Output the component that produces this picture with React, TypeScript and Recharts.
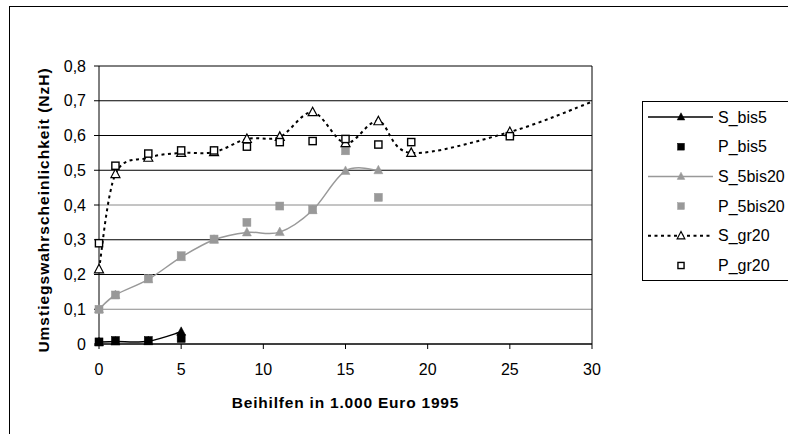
import React from 'react';
import { ComposedChart, Line, XAxis, YAxis, CartesianGrid, ReferenceLine, Legend, Label } from 'recharts';

// ---- data ----
const X_BIS5 = [0, 1, 3, 5];
const S_BIS5 = [0.005, 0.007, 0.008, 0.035];
const P_BIS5 = [0.006, 0.01, 0.01, 0.016];

const X_5BIS20 = [0, 1, 3, 5, 7, 9, 11, 13, 15, 17];
const S_5BIS20 = [0.1, 0.141, 0.186, 0.25, 0.3, 0.321, 0.322, 0.385, 0.498, 0.5];
const P_5BIS20 = [0.1, 0.141, 0.188, 0.254, 0.302, 0.35, 0.397, 0.388, 0.556, 0.422];

const X_GR20_S = [0, 1, 3, 5, 7, 9, 11, 13, 15, 17, 19, 25, 30];
const S_GR20 = [0.215, 0.489, 0.536, 0.55, 0.552, 0.59, 0.596, 0.667, 0.578, 0.641, 0.55, 0.61, 0.697];
const X_GR20_P = [0, 1, 3, 5, 7, 9, 11, 13, 15, 17, 19, 25];
const P_GR20 = [0.29, 0.513, 0.548, 0.557, 0.557, 0.568, 0.581, 0.584, 0.59, 0.574, 0.581, 0.598];

const X_TICKS = [0, 5, 10, 15, 20, 25, 30];
const Y_TICKS = [0, 0.1, 0.2, 0.3, 0.4, 0.5, 0.6, 0.7, 0.8];
const SERIES_NAMES = ['S_bis5', 'P_bis5', 'S_5bis20', 'P_5bis20', 'S_gr20', 'P_gr20'];

const X_TITLE = 'Beihilfen in 1.000 Euro 1995';
const Y_TITLE = 'Umstiegswahrscheinlichkeit (NzH)';

const zip = (xs: number[], ys: number[]) => xs.map((x, i) => ({ x, y: ys[i] }));

const FONT = '"Liberation Sans", Arial, sans-serif';
const GRAY = '#999999';

// Catmull-Rom style smoothing (similar to Excel smoothed lines)
const smoothCurve: any = (context: any) => {
  let pts: number[][] = [];
  return {
    areaStart() {},
    areaEnd() {},
    lineStart() { pts = []; },
    point(x: number, y: number) { pts.push([+x, +y]); },
    lineEnd() {
      const n = pts.length;
      if (!n) return;
      context.moveTo(pts[0][0], pts[0][1]);
      const k = 1 / 6;
      for (let i = 0; i < n - 1; i++) {
        const p0 = pts[Math.max(i - 1, 0)];
        const p1 = pts[i];
        const p2 = pts[i + 1];
        const p3 = pts[Math.min(i + 2, n - 1)];
        context.bezierCurveTo(
          p1[0] + k * (p2[0] - p0[0]), p1[1] + k * (p2[1] - p0[1]),
          p2[0] - k * (p3[0] - p1[0]), p2[1] - k * (p3[1] - p1[1]),
          p2[0], p2[1]
        );
      }
    },
  };
};

type MarkerKind = 'triBlack' | 'sqBlack' | 'triGray' | 'sqGray' | 'triOpen' | 'sqOpen';

const Marker = ({ kind, cx, cy, s = 1 }: { kind: MarkerKind; cx: number; cy: number; s?: number }) => {
  const tri = (fill: string, stroke: string, sw: number) => (
    <polygon
      points={`${cx},${cy - 5 * s} ${cx + 4.5 * s},${cy + 3.5 * s} ${cx - 4.5 * s},${cy + 3.5 * s}`}
      fill={fill}
      stroke={stroke}
      strokeWidth={sw}
    />
  );
  const sq = (fill: string, stroke: string, sw: number, h: number) => (
    <rect x={cx - h * s} y={cy - h * s} width={2 * h * s} height={2 * h * s} fill={fill} stroke={stroke} strokeWidth={sw} />
  );
  switch (kind) {
    case 'triBlack': return tri('#000', '#000', 0.5);
    case 'sqBlack': return sq('#000', '#000', 0.5, 4);
    case 'triGray': return tri(GRAY, GRAY, 0.5);
    case 'sqGray': return sq(GRAY, GRAY, 0.5, 4);
    case 'triOpen': return tri('#fff', '#000', 1.2);
    case 'sqOpen': return sq('#fff', '#000', 1.4, 3.6);
  }
  return null;
};

const mkDot = (kind: MarkerKind, maxX = Infinity) => (p: any) => {
  if (p.cx == null || p.cy == null || (p.payload && p.payload.x >= maxX)) return <g key={p.key ?? p.index} />;
  return (
    <g key={p.key ?? `${kind}-${p.index}`}>
      <Marker kind={kind} cx={p.cx} cy={p.cy} />
    </g>
  );
};

const LEGEND_STYLE: { line?: { stroke: string; width: number; dash?: string }; marker: MarkerKind }[] = [
  { line: { stroke: '#000', width: 1.5 }, marker: 'triBlack' },
  { marker: 'sqBlack' },
  { line: { stroke: GRAY, width: 1.5 }, marker: 'triGray' },
  { marker: 'sqGray' },
  { line: { stroke: '#000', width: 2, dash: '3 3.5' }, marker: 'triOpen' },
  { marker: 'sqOpen' },
];

const LegendBox = () => (
  <svg width={160} height={178} style={{ display: 'block' }}>
    {SERIES_NAMES.map((name, i) => {
      const cy = 15 + i * 29.7;
      const st = LEGEND_STYLE[i];
      return (
        <g key={name}>
          {st.line && (
            <line x1={5} x2={70} y1={cy} y2={cy} stroke={st.line.stroke} strokeWidth={st.line.width} strokeDasharray={st.line.dash} />
          )}
          <Marker kind={st.marker} cx={38} cy={cy} s={0.85} />
          <text x={75} y={cy} dominantBaseline="central" fontSize={16} fontFamily={FONT} fill="#000">{name}</text>
        </g>
      );
    })}
  </svg>
);

const XTitle = (props: any) => {
  const vb = props.viewBox || {};
  return (
    <text x={vb.x + vb.width / 2} y={vb.y + 63.5} textAnchor="middle" fontSize={15.5} letterSpacing={0.8} fontWeight="bold" fontFamily={FONT} fill="#000">
      {X_TITLE}
    </text>
  );
};

const YTitle = (props: any) => {
  const vb = props.viewBox || {};
  const cx = 43;
  const cy = vb.y + vb.height / 2 + 5;
  return (
    <text x={cx} y={cy} transform={`rotate(-90 ${cx} ${cy})`} textAnchor="middle" dominantBaseline="central" fontSize={15.5} letterSpacing={1} fontWeight="bold" fontFamily={FONT} fill="#000">
      {Y_TITLE}
    </text>
  );
};

// grid lines; the 0,1 and 0,4 lines appear lighter in the reference
const gridLine = (p: any) => {
  const light = p.index === 1 || p.index === 4;
  return (
    <line key={p.key ?? `g-${p.index}`} x1={p.x1} y1={p.y1} x2={p.x2} y2={p.y2} stroke={light ? '#8a8a8a' : '#000'} strokeWidth={1} fill="none" />
  );
};

const fmtY = (v: number) => (v === 0 ? '0' : v.toFixed(1).replace('.', ','));

export default function App() {
  return (
    <div style={{ position: 'absolute', left: 0, top: 0, width: 788, height: 434, overflow: 'hidden', background: '#fff' }}>
      <div style={{ position: 'absolute', left: 9, top: 6, width: 820, height: 460, border: '1px solid #000' }} />
      <div style={{ position: 'absolute', left: 0, top: 0 }}>
        <ComposedChart width={788} height={434} margin={{ top: 66, right: 196, bottom: 30, left: 0 }}>
          <CartesianGrid vertical={false} horizontal={gridLine} stroke="#000" strokeWidth={1} />
          <XAxis
            dataKey="x"
            type="number"
            domain={[0, 30]}
            ticks={X_TICKS}
            interval={0}
            height={60}
            tickSize={5}
            tickMargin={15}
            stroke="#000"
            tick={{ fill: '#000', fontSize: 16, fontFamily: FONT }}
            allowDuplicatedCategory={false}
          >
            <Label content={XTitle} />
          </XAxis>
          <YAxis
            type="number"
            domain={[0, 0.8]}
            ticks={Y_TICKS}
            interval={0}
            width={99}
            tickSize={5}
            tickMargin={8}
            stroke="#000"
            tickFormatter={fmtY}
            tick={{ fill: '#000', fontSize: 16, fontFamily: FONT }}
          >
            <Label content={YTitle} />
          </YAxis>
          <ReferenceLine x={30} stroke="#000" strokeWidth={1} />
          <Line data={zip(X_BIS5, S_BIS5)} dataKey="y" name="S_bis5" type={smoothCurve} stroke="#000" strokeWidth={1.5} dot={mkDot('triBlack')} activeDot={false} isAnimationActive={false} />
          <Line data={zip(X_BIS5, P_BIS5)} dataKey="y" name="P_bis5" stroke="none" dot={mkDot('sqBlack')} activeDot={false} isAnimationActive={false} />
          <Line data={zip(X_5BIS20, S_5BIS20)} dataKey="y" name="S_5bis20" type={smoothCurve} stroke={GRAY} strokeWidth={1.5} dot={mkDot('triGray')} activeDot={false} isAnimationActive={false} />
          <Line data={zip(X_5BIS20, P_5BIS20)} dataKey="y" name="P_5bis20" stroke="none" dot={mkDot('sqGray')} activeDot={false} isAnimationActive={false} />
          <Line data={zip(X_GR20_S, S_GR20)} dataKey="y" name="S_gr20" type={smoothCurve} stroke="#000" strokeWidth={2} strokeDasharray="3 3.5" dot={mkDot('triOpen', 30)} activeDot={false} isAnimationActive={false} />
          <Line data={zip(X_GR20_P, P_GR20)} dataKey="y" name="P_gr20" stroke="none" dot={mkDot('sqOpen')} activeDot={false} isAnimationActive={false} />
          <Legend
            layout="horizontal"
            verticalAlign="middle"
            align="center"
            wrapperStyle={{ left: 642, top: 101, width: 160, height: 180, border: '1px solid #000', background: '#fff', boxSizing: 'border-box' }}
            content={() => <LegendBox />}
          />
        </ComposedChart>
      </div>
    </div>
  );
}
